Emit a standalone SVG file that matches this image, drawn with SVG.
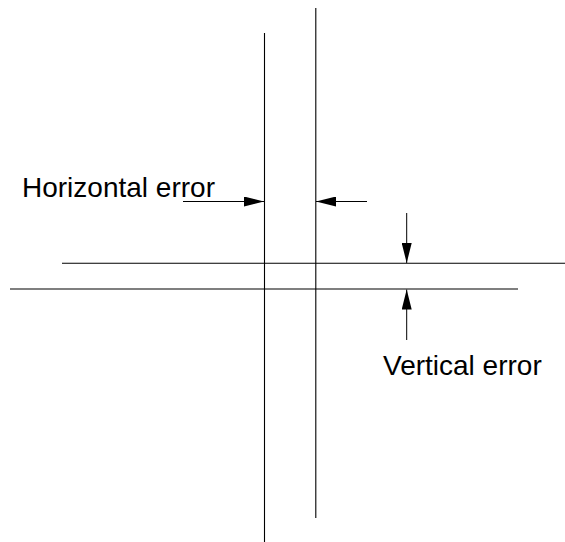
<svg xmlns="http://www.w3.org/2000/svg" width="565" height="542" viewBox="0 0 565 542">
  <style>
    .ln { stroke: #000; stroke-width: 1.1; fill: none; }
    .arr { stroke: #000; stroke-width: 1; fill: none; marker-end: url(#head); }
    .lbl { font-family: "Liberation Sans", Arial, sans-serif; font-size: 28px; fill: #000; }
  </style>
  <defs>
    <marker id="head" viewBox="0 0 20 10" refX="20" refY="5" markerWidth="20" markerHeight="10" markerUnits="userSpaceOnUse" orient="auto">
      <path d="M0,0 L20,5 L0,10 Z" fill="#000"/>
    </marker>
  </defs>
  <rect width="565" height="542" fill="#fff"/>
  <g id="vline-1"><line class="ln" x1="264.5" y1="33" x2="264.5" y2="542"/></g>
  <g id="vline-2"><line class="ln" x1="315.8" y1="8" x2="315.8" y2="518"/></g>
  <g id="hline-1"><line class="ln" x1="62" y1="263.3" x2="565" y2="263.3"/></g>
  <g id="hline-2"><line class="ln" x1="10" y1="289" x2="518" y2="289"/></g>
  <g id="connectors">
    <line class="arr" x1="183" y1="201.5" x2="264" y2="201.5"/>
    <line class="arr" x1="367" y1="201.5" x2="316" y2="201.5"/>
    <line class="arr" x1="406.7" y1="213" x2="406.7" y2="263"/>
    <line class="arr" x1="406.7" y1="340" x2="406.7" y2="289.5"/>
  </g>
  <g id="label-horizontal"><text class="lbl" x="22" y="197">Horizontal error</text></g>
  <g id="label-vertical"><text class="lbl" x="383" y="375">Vertical error</text></g>
</svg>
